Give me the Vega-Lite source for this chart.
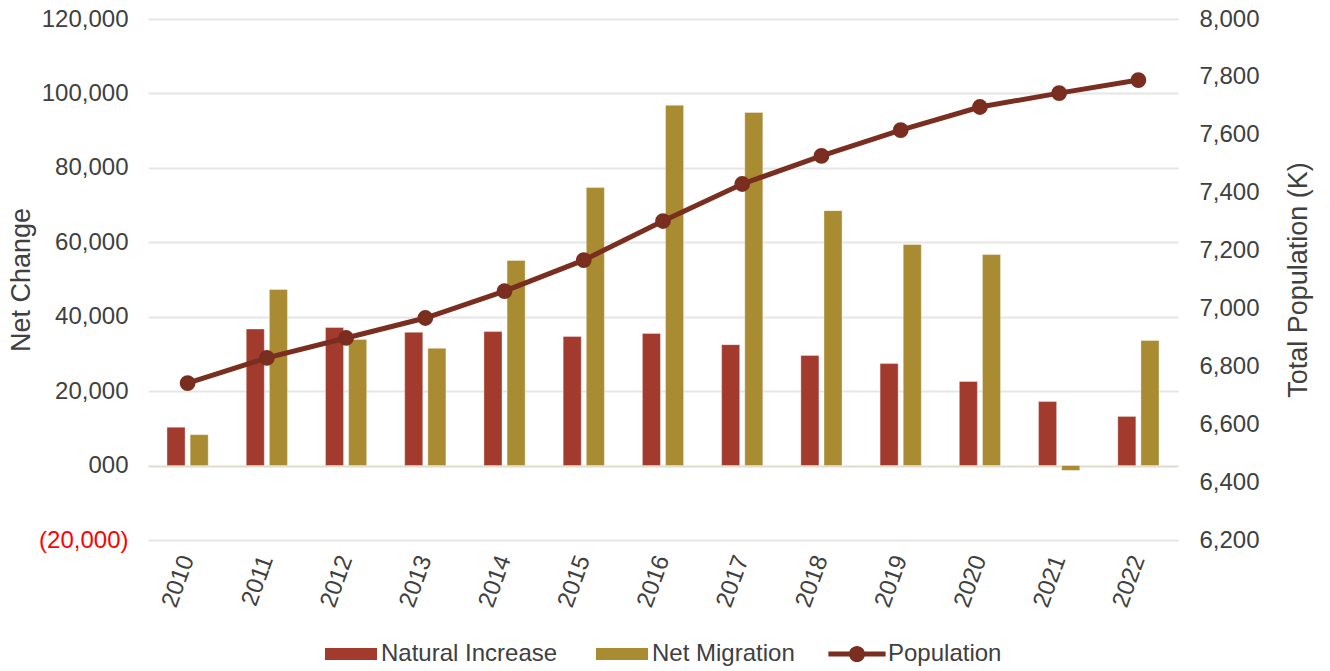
{
  "$schema": "https://vega.github.io/schema/vega-lite/v6.json",
  "width": 1030,
  "height": 521,
  "autosize": "none",
  "padding": {"left": 148, "top": 19, "right": 152, "bottom": 131},
  "background": "white",
  "config": {
    "font": "Liberation Sans",
    "view": {"stroke": null},
    "axis": {
      "labelFont": "Liberation Sans",
      "titleFont": "Liberation Sans",
      "labelColor": "#404040",
      "titleColor": "#404040",
      "labelFontSize": 24,
      "titleFontSize": 27,
      "titleFontWeight": "normal",
      "domain": false,
      "ticks": false
    },
    "legend": {
      "orient": "bottom",
      "direction": "horizontal",
      "labelFont": "Liberation Sans",
      "labelFontSize": 24,
      "labelColor": "#404040",
      "labelLimit": 400,
      "labelOffset": 4,
      "columnPadding": 38,
      "offset": 17,
      "title": null,
      "layout": {"bottom": {"anchor": "middle", "direction": "horizontal", "margin": 36}}
    }
  },
  "datasets": {
    "change": [
      {"year": "2010", "series": "Natural Increase", "value": 10300},
      {"year": "2010", "series": "Net Migration", "value": 8300},
      {"year": "2011", "series": "Natural Increase", "value": 36700},
      {"year": "2011", "series": "Net Migration", "value": 47300},
      {"year": "2012", "series": "Natural Increase", "value": 37100},
      {"year": "2012", "series": "Net Migration", "value": 33900},
      {"year": "2013", "series": "Natural Increase", "value": 35800},
      {"year": "2013", "series": "Net Migration", "value": 31500},
      {"year": "2014", "series": "Natural Increase", "value": 36000},
      {"year": "2014", "series": "Net Migration", "value": 55100},
      {"year": "2015", "series": "Natural Increase", "value": 34700},
      {"year": "2015", "series": "Net Migration", "value": 74700},
      {"year": "2016", "series": "Natural Increase", "value": 35500},
      {"year": "2016", "series": "Net Migration", "value": 96800},
      {"year": "2017", "series": "Natural Increase", "value": 32500},
      {"year": "2017", "series": "Net Migration", "value": 94900},
      {"year": "2018", "series": "Natural Increase", "value": 29600},
      {"year": "2018", "series": "Net Migration", "value": 68500},
      {"year": "2019", "series": "Natural Increase", "value": 27400},
      {"year": "2019", "series": "Net Migration", "value": 59400},
      {"year": "2020", "series": "Natural Increase", "value": 22600},
      {"year": "2020", "series": "Net Migration", "value": 56700},
      {"year": "2021", "series": "Natural Increase", "value": 17200},
      {"year": "2021", "series": "Net Migration", "value": -1300},
      {"year": "2022", "series": "Natural Increase", "value": 13200},
      {"year": "2022", "series": "Net Migration", "value": 33600}
    ],
    "population": [
      {"year": "2010", "series": "Population", "population": 6742},
      {"year": "2011", "series": "Population", "population": 6829},
      {"year": "2012", "series": "Population", "population": 6898},
      {"year": "2013", "series": "Population", "population": 6967},
      {"year": "2014", "series": "Population", "population": 7060},
      {"year": "2015", "series": "Population", "population": 7167},
      {"year": "2016", "series": "Population", "population": 7302},
      {"year": "2017", "series": "Population", "population": 7430},
      {"year": "2018", "series": "Population", "population": 7527},
      {"year": "2019", "series": "Population", "population": 7616},
      {"year": "2020", "series": "Population", "population": 7696},
      {"year": "2021", "series": "Population", "population": 7744},
      {"year": "2022", "series": "Population", "population": 7789}
    ]
  },
  "layer": [
    {
      "data": {"name": "change"},
      "mark": {"type": "bar", "stroke": "#ffffff", "strokeOpacity": 0.35, "strokeWidth": 1},
      "encoding": {
        "x": {
          "field": "year",
          "type": "ordinal",
          "scale": {"paddingInner": 0.48, "paddingOuter": 0.24},
          "axis": {"title": null, "labelAngle": -70, "labelPadding": 16, "grid": false}
        },
        "xOffset": {
          "field": "series",
          "type": "nominal",
          "sort": ["Natural Increase", "Net Migration"],
          "scale": {"paddingInner": 0.22, "paddingOuter": 0}
        },
        "y": {
          "field": "value",
          "type": "quantitative",
          "scale": {"domain": [-20000, 120000], "nice": false, "zero": false},
          "axis": {
            "title": "Net Change",
            "orient": "left",
            "values": [-20000, 0, 20000, 40000, 60000, 80000, 100000, 120000],
            "labelExpr": "datum.value == 0 ? '000' : (datum.value < 0 ? '(' + format(-datum.value, ',') + ')' : format(datum.value, ','))",
            "labelColor": {"condition": {"test": "datum.value < 0", "value": "#ff0000"}, "value": "#404040"},
            "labelPadding": 20,
            "titlePadding": 3,
            "grid": true,
            "gridColor": {"condition": {"test": "datum.value === 0", "value": "#deddcb"}, "value": "#e6e6e6"},
            "gridWidth": 2
          }
        },
        "fill": {
          "field": "series",
          "type": "nominal",
          "scale": {"domain": ["Natural Increase", "Net Migration"], "range": ["#A33A2E", "#A98B32"]},
          "legend": {
            "symbolType": "M-1,-0.23H1V0.23H-1Z",
            "symbolSize": 2704,
            "symbolStrokeWidth": 0
          }
        }
      }
    },
    {
      "data": {"name": "population"},
      "mark": {"type": "line", "strokeWidth": 5, "point": {"filled": true, "size": 190, "fill": "#7A2E1F"}},
      "encoding": {
        "x": {"field": "year", "type": "ordinal"},
        "y": {
          "field": "population",
          "type": "quantitative",
          "scale": {"domain": [6200, 8000], "nice": false, "zero": false},
          "axis": {
            "title": "Total Population (K)",
            "orient": "right",
            "values": [6200, 6400, 6600, 6800, 7000, 7200, 7400, 7600, 7800, 8000],
            "labelExpr": "format(datum.value, ',')",
            "labelPadding": 21,
            "titlePadding": 26,
            "titleAngle": 270,
            "titleBaseline": "top",
            "grid": false
          }
        },
        "stroke": {
          "field": "series",
          "type": "nominal",
          "scale": {"domain": ["Population"], "range": ["#7A2E1F"]},
          "legend": {
            "symbolType": "M-1.1,-0.096H1.1V0.096H-1.1Z M-0.31,0A0.31,0.31 0 1 1 0.31,0A0.31,0.31 0 1 1 -0.31,0Z",
            "symbolSize": 2704,
            "symbolFillColor": "#7A2E1F",
            "symbolStrokeWidth": 0,
            "labelOffset": 5,
            "encode": {"symbols": {"update": {"fill": {"value": "#7A2E1F"}, "strokeWidth": {"value": 0}}}}
          }
        }
      }
    }
  ],
  "resolve": {"scale": {"y": "independent", "fill": "independent", "stroke": "independent"}}
}
